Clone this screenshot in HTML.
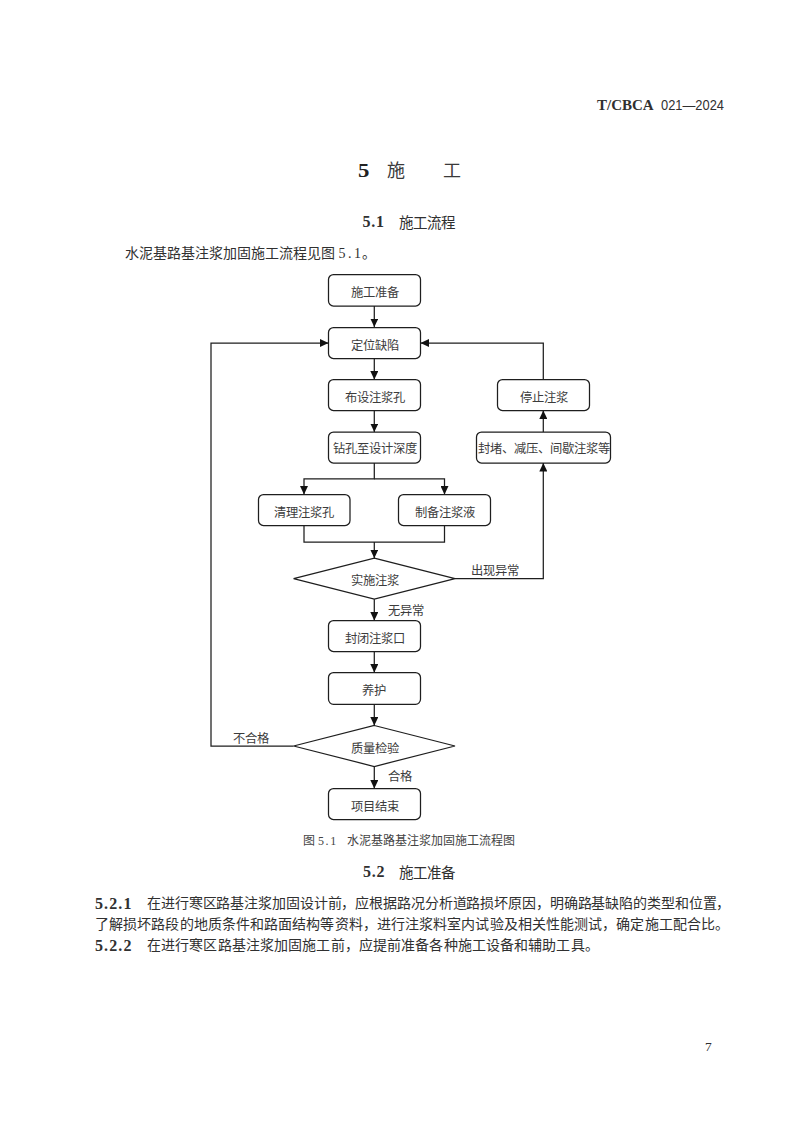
<!DOCTYPE html>
<html lang="zh-CN">
<head>
<meta charset="utf-8">
<style>
html,body{margin:0;padding:0;background:#fff;}
body{width:800px;height:1130px;position:relative;overflow:hidden;font-family:"Liberation Serif",serif;color:#303030;}
.t{position:absolute;white-space:nowrap;line-height:1;}
.c{position:absolute;white-space:nowrap;line-height:1;text-align:center;font-family:"Liberation Sans",sans-serif;font-size:12.3px;color:#3c3c3c;}
svg{position:absolute;left:0;top:0;}
.jl{position:absolute;white-space:nowrap;line-height:1;font-size:14px;text-align:justify;text-align-last:justify;}
</style>
</head>
<body>
<!-- header -->
<div class="t" style="left:597px;top:98px;font-size:15px;font-weight:bold;">T/CBCA</div>
<div class="t" style="left:661px;top:97.5px;font-size:14px;font-family:'Liberation Sans',sans-serif;transform:scaleX(0.92);transform-origin:0 0;">021—2024</div>

<!-- chapter title -->
<div class="t" style="left:358px;top:161px;font-size:19px;font-weight:bold;transform:scaleX(1.2);transform-origin:0 0;color:#222;">5</div>
<div class="t" style="left:386.5px;top:162px;font-size:18px;color:#3a3a3a;">施</div>
<div class="t" style="left:442.5px;top:162px;font-size:18px;color:#3a3a3a;">工</div>

<div class="t" style="left:362.5px;top:214px;font-size:16px;font-weight:bold;letter-spacing:0.8px;">5.1</div>
<div class="t" style="left:399px;top:215.5px;font-size:14.5px;">施工流程</div>

<div class="t" style="left:125px;top:246.5px;font-size:14px;">水泥基路基注浆加固施工流程见图 <span style="letter-spacing:2.5px">5.1</span><span style="margin-left:-1.5px">。</span></div>

<svg width="800" height="1130" viewBox="0 0 800 1130">
<defs>
<marker id="ah" viewBox="0 0 8.5 8" refX="8.5" refY="4" markerWidth="8.5" markerHeight="8" markerUnits="userSpaceOnUse" orient="auto">
<path d="M0,0 L8.5,4 L0,8 z" fill="#111"/>
</marker>
</defs>
<g fill="none" stroke="#1e1e1e" stroke-width="1.25">
<rect x="328.5" y="274.5" width="92" height="31.5" rx="5"/>
<rect x="328.5" y="327.5" width="92" height="31" rx="5"/>
<rect x="328.5" y="379.5" width="92" height="31" rx="5"/>
<rect x="328.5" y="432" width="92" height="31" rx="5"/>
<rect x="258.5" y="494.5" width="91.5" height="31" rx="5"/>
<rect x="398.5" y="494.5" width="92" height="31" rx="5"/>
<path d="M374.3,558.2 L455,578.7 L374.3,599.2 L293.6,578.7 z"/>
<rect x="328.5" y="620.5" width="92" height="31" rx="5"/>
<rect x="328.5" y="672.5" width="92" height="31.8" rx="5"/>
<path d="M374.3,725.5 L455,746 L374.3,766.5 L293.6,746 z"/>
<rect x="328.5" y="788.5" width="92" height="31" rx="5"/>
<rect x="497.5" y="379.5" width="92" height="31" rx="5"/>
<rect x="476.5" y="432" width="134" height="31" rx="5"/>
</g>
<g fill="none" stroke="#1e1e1e" stroke-width="1.25">
<path d="M374.3,306 V327" marker-end="url(#ah)"/>
<path d="M374.3,358.5 V379.5" marker-end="url(#ah)"/>
<path d="M374.3,410.5 V432" marker-end="url(#ah)"/>
<path d="M374.3,463 V478.8 H304 V494.5" marker-end="url(#ah)"/>
<path d="M374.3,478.8 H444.5 V494.5" marker-end="url(#ah)"/>
<path d="M304,525.5 V542 H444.5 V525.5"/>
<path d="M374.3,542 V558.2" marker-end="url(#ah)"/>
<path d="M455,578.7 H543.3 V463" marker-end="url(#ah)"/>
<path d="M543.3,432 V410.5" marker-end="url(#ah)"/>
<path d="M543.3,379.5 V343 H420.5" marker-end="url(#ah)"/>
<path d="M374.3,599.2 V620.5" marker-end="url(#ah)"/>
<path d="M374.3,651.5 V672.5" marker-end="url(#ah)"/>
<path d="M374.3,704.3 V725.5" marker-end="url(#ah)"/>
<path d="M374.3,766.5 V788.5" marker-end="url(#ah)"/>
<path d="M293.6,746 H211 V343 H328.5" marker-end="url(#ah)"/>
</g>
</svg>

<!-- flowchart labels -->
<div class="c" style="left:328px;width:93px;top:287px;">施工准备</div>
<div class="c" style="left:328px;width:93px;top:340px;">定位缺陷</div>
<div class="c" style="left:328px;width:93px;top:392px;">布设注浆孔</div>
<div class="c" style="left:328px;width:93px;top:443px;">钻孔至设计深度</div>
<div class="c" style="left:258px;width:92px;top:507px;">清理注浆孔</div>
<div class="c" style="left:398px;width:93px;top:507px;">制备注浆液</div>
<div class="c" style="left:294px;width:161px;top:575px;">实施注浆</div>
<div class="c" style="left:328px;width:93px;top:633px;">封闭注浆口</div>
<div class="c" style="left:327px;width:93px;top:685px;">养护</div>
<div class="c" style="left:294px;width:161px;top:742.5px;">质量检验</div>
<div class="c" style="left:328px;width:93px;top:801px;">项目结束</div>
<div class="c" style="left:497px;width:93px;top:392px;">停止注浆</div>
<div class="c" style="left:476px;width:135px;top:443px;">封堵、减压、间歇注浆等</div>
<div class="c" style="left:470.5px;top:564.5px;text-align:left;">出现异常</div>
<div class="c" style="left:388px;top:604.5px;text-align:left;">无异常</div>
<div class="c" style="left:233px;top:733px;text-align:left;">不合格</div>
<div class="c" style="left:388px;top:770.5px;text-align:left;">合格</div>

<!-- caption -->
<div class="t" style="left:303px;top:835px;font-size:12px;color:#444;">图 <span style="letter-spacing:1.6px">5.1</span><span style="display:inline-block;width:9.5px"></span>水泥基路基注浆加固施工流程图</div>

<div class="t" style="left:363px;top:864px;font-size:16px;font-weight:bold;letter-spacing:0.8px;">5.2</div>
<div class="t" style="left:399px;top:866px;font-size:14.5px;">施工准备</div>

<!-- paragraphs -->
<div class="t" style="left:95px;top:895.5px;font-size:16px;font-weight:bold;letter-spacing:1.1px;">5.2.1</div>
<div class="t" style="left:147px;top:897px;font-size:14px;letter-spacing:-0.11px;">在进行寒区路基注浆加固设计前，应根据路况分析道路损坏原因，明确路基缺陷的类型和位置，</div>
<div class="jl" style="left:95px;width:634px;top:917.5px;">了解损坏路段的地质条件和路面结构等资料，进行注浆料室内试验及相关性能测试，确定施工配合比。</div>
<div class="t" style="left:95px;top:938px;font-size:16px;font-weight:bold;letter-spacing:1.1px;">5.2.2</div>
<div class="t" style="left:147px;top:938.5px;font-size:14px;letter-spacing:0.12px;">在进行寒区路基注浆加固施工前，应提前准备各种施工设备和辅助工具。</div>

<div class="t" style="left:705px;top:1040px;font-size:13.5px;">7</div>
</body>
</html>
